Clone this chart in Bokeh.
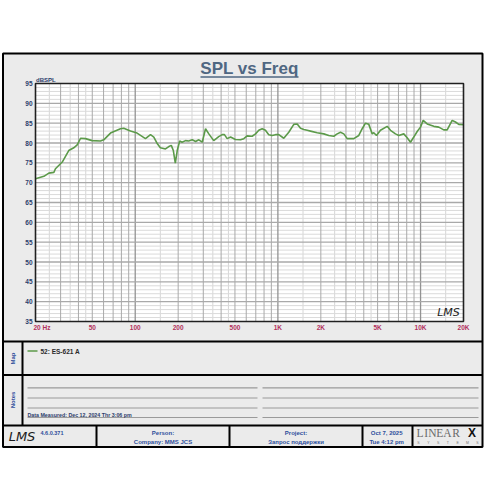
import math
from bokeh.plotting import figure
from bokeh.models import Range1d, LogScale
from bokeh.embed import file_html
from bokeh.resources import INLINE
from bokeh.core.properties import value

# ---------------- data ----------------
freq = [20, 22.9, 24.8, 26.9, 27.6, 30.8, 34.2, 37.1, 39.2, 41.4,
        44.8, 49.9, 57.1, 60.2, 67.1, 78.8, 83.1, 92.6, 103, 118,
        128, 135, 143, 150, 163, 172, 179, 185, 191, 197,
        205, 213, 225, 237, 251, 265, 279, 295, 311, 328,
        355, 385, 407, 422, 441, 466, 504, 547, 577, 609,
        660, 697, 735, 776, 818, 863, 912, 962, 1015, 1100,
        1192, 1293, 1366, 1441, 1520, 1605, 1693, 1886, 2097, 2273,
        2465, 2604, 2747, 2897, 3060, 3405, 3691, 3899, 4112, 4338,
        4583, 4702, 4911, 5238, 5838, 6156, 6673, 7038, 7627, 8057,
        8500, 8966, 9472, 9990, 10434, 11131, 12385, 13422, 14546, 15367,
        16661, 17573, 18536, 20000]
spl = [71.0, 71.6, 72.4, 72.6, 73.5, 75.2, 78.1, 78.8, 79.5, 81.2,
       81.1, 80.6, 80.5, 80.8, 82.5, 83.6, 83.7, 83.0, 82.5, 81.1,
       82.1, 81.5, 79.8, 78.8, 78.5, 79.1, 79.4, 78.1, 74.9, 78.1,
       80.5, 80.2, 80.6, 80.5, 80.8, 80.4, 80.8, 80.2, 83.6, 82.3,
       80.6, 81.6, 82.1, 82.1, 81.1, 81.5, 80.9, 80.8, 81.1, 81.8,
       81.7, 82.3, 83.2, 83.6, 83.2, 82.1, 81.9, 82.1, 82.1, 81.2,
       82.7, 84.7, 84.8, 83.7, 83.4, 83.2, 83.0, 82.6, 82.3, 81.9,
       81.7, 82.3, 82.7, 82.3, 81.1, 81.1, 81.9, 83.6, 85.0, 84.7,
       82.3, 82.6, 81.9, 83.2, 84.2, 83.2, 82.3, 81.9, 82.3, 81.3,
       80.2, 81.5, 82.9, 84.0, 85.7, 84.8, 84.2, 84.0, 83.3, 83.3,
       85.7, 85.3, 84.7, 84.6]
y_ticks = [95, 90, 85, 80, 75, 70, 65, 60, 55, 50, 45, 40, 35]
x_tick_freqs = [50, 100, 200, 500, 1000, 2000, 5000, 10000, 20000]
x_tick_labels = ["50", "100", "200", "500", "1K", "2K", "5K", "10K", "20K"]
first_tick = "20  Hz"
series_name = "52: ES-621 A"
title_text = "SPL vs Freq"
y_unit = "dBSPL"

# ---------------- layout (pixels) ----------------
PX0, PX1, PY0, PY1 = 35, 463, 83, 321
F0, F1, DB0, DB1 = 20.0, 20000.0, 35.0, 95.0
FX0, FX1, FY0, FY1 = 2.5, 482, 53, 446.5   # outer frame
W = H = 484


def px_to_f(px):
    return F0 * 10 ** ((px - PX0) / (PX1 - PX0) * math.log10(F1 / F0))


def py_to_db(py):
    return DB1 - (py - PY0) / (PY1 - PY0) * (DB1 - DB0)


FONT = value("Liberation Sans")
BLUE = "#2f4f9c"
NAVY = "#2b3d6b"
CRIMSON = "#b2305c"

p = figure(width=W, height=H, x_range=Range1d(0, W), y_range=Range1d(H, 0),
           output_backend="svg", toolbar_location=None, min_border=0,
           x_axis_location=None, y_axis_location=None)
p.grid.visible = False
p.outline_line_color = None
p.background_fill_color = "white"
p.border_fill_color = "white"
p.extra_x_ranges = {"f": Range1d(px_to_f(0), px_to_f(W))}
p.extra_x_scales = {"f": LogScale()}
p.extra_y_ranges = {"db": Range1d(py_to_db(H), py_to_db(0))}

# outer panel
p.quad(left=[FX0], right=[FX1], top=[FY0], bottom=[FY1], fill_color="#ebebeb",
       line_color="black", line_width=2)

# plot area
p.quad(left=[F0], right=[F1], top=[DB1], bottom=[DB0],
       fill_color="white", line_color=None, x_range_name="f", y_range_name="db")

# vertical grid
minor_v, major_v, decade_v = [], [], []
for dec in [10, 100, 1000, 10000]:
    for m in [1.5, 2.5, 3.5, 4.5]:
        f = m * dec
        if F0 < f < F1:
            minor_v.append(f)
    for m in range(1, 10):
        f = m * dec
        if F0 < f < F1:
            (decade_v if m == 1 else major_v).append(f)
p.segment(x0=minor_v, x1=minor_v, y0=[DB0] * len(minor_v), y1=[DB1] * len(minor_v),
          line_color="#d6d6d6", line_width=1, x_range_name="f", y_range_name="db")
# horizontal grid
minor_h = [d for d in range(int(DB0) + 1, int(DB1)) if d % 5]
major_h = [d for d in range(int(DB0) + 5, int(DB1), 5)]
p.segment(x0=[F0] * len(minor_h), x1=[F1] * len(minor_h), y0=minor_h, y1=minor_h,
          line_color="#dadada", line_width=1, x_range_name="f", y_range_name="db")
p.segment(x0=major_v, x1=major_v, y0=[DB0] * len(major_v), y1=[DB1] * len(major_v),
          line_color="#a9a9a9", line_width=1, x_range_name="f", y_range_name="db")
p.segment(x0=decade_v, x1=decade_v, y0=[DB0] * len(decade_v), y1=[DB1] * len(decade_v),
          line_color="#939393", line_width=1.3, x_range_name="f", y_range_name="db")
p.segment(x0=[F0] * len(major_h), x1=[F1] * len(major_h), y0=major_h, y1=major_h,
          line_color="#a9a9a9", line_width=1.3, x_range_name="f", y_range_name="db")

# curve
p.line(freq, spl, line_color="#5c9a4a", line_width=1.6, x_range_name="f", y_range_name="db")

# plot border
p.quad(left=[F0], right=[F1], top=[DB1], bottom=[DB0], fill_color=None,
       line_color="#202020", line_width=1.6, x_range_name="f", y_range_name="db")

# title
p.text(x=[249], y=[68.3], text=[title_text], text_font=FONT, text_font_size="17px",
       text_font_style="bold", text_color="#4f6782", text_align="center",
       text_baseline="middle")
p.segment(x0=[200], x1=[298], y0=[76.6], y1=[76.6], line_color="#4f6782", line_width=1.5)

# axis labels
p.text(x=[35.5], y=[79.3], text=[y_unit], text_font=FONT, text_font_size="6px",
       text_font_style="bold", text_color=NAVY, text_align="left", text_baseline="middle")
p.text(x=[32] * len(y_ticks), y=y_ticks, text=[str(t) for t in y_ticks], text_font=FONT,
       text_font_size="6.5px", text_font_style="bold", text_color=NAVY,
       text_align="right", text_baseline="middle", y_range_name="db")
p.text(x=x_tick_freqs, y=[327] * len(x_tick_freqs), text=x_tick_labels, text_font=FONT,
       text_font_size="6.5px", text_font_style="bold", text_color=CRIMSON,
       text_align="center", text_baseline="middle", x_range_name="f")
p.text(x=[F0], y=[327], text=[first_tick], text_font=FONT, x_offset=-2,
       text_font_size="6.5px", text_font_style="bold", text_color=CRIMSON,
       text_align="left", text_baseline="middle", x_range_name="f")

# LMS watermark in plot
p.text(x=[448], y=[311.5], text=["LMS"], text_font=value("DejaVu Sans"), text_font_size="11px",
       text_font_style="italic", text_color="#222222", text_align="center", text_baseline="middle")

# panel dividers
p.segment(x0=[FX0] * 3, x1=[FX1] * 3, y0=[341, 374.5, 425], y1=[341, 374.5, 425],
          line_color="black", line_width=2)
p.segment(x0=[22, 96, 229, 362, 412], x1=[22, 96, 229, 362, 412],
          y0=[341, 425, 425, 425, 425], y1=[425, FY1, FY1, FY1, FY1],
          line_color="black", line_width=2)

# Map / Notes labels (rotated)
p.text(x=[12, 12], y=[358, 399.5], text=["Map", "Notes"], text_font=FONT, text_font_size="6px",
       text_font_style="bold", text_color=BLUE, text_align="center", text_baseline="middle",
       angle=math.pi / 2)

# legend entry
p.segment(x0=[27], x1=[37], y0=[350.5], y1=[350.5], line_color="#5c9a4a", line_width=1.6)
p.text(x=[40], y=[350.5], text=[series_name], text_font=FONT, text_font_size="6.5px",
       text_font_style="bold", text_color="#2a2a2a", text_align="left", text_baseline="middle")

# notes lines
ny = [387.3, 397.5, 407.5, 417]
p.segment(x0=[27] * 4 + [262] * 4, x1=[257] * 4 + [478] * 4, y0=ny + ny, y1=ny + ny,
          line_color="#9a9a9a", line_width=1.2)
p.text(x=[27], y=[414], text=["Data Measured: Dec 12, 2024  Thr  3:06 pm"], text_font=FONT,
       text_font_size="5.3px", text_font_style="bold", text_color=NAVY, text_align="left",
       text_baseline="middle")

# footer
p.text(x=[21.5], y=[435.5], text=["LMS"], text_font=value("DejaVu Sans"), text_font_size="13px",
       text_font_style="italic", text_color="#1a1a1a", text_align="center", text_baseline="middle")
p.text(x=[40], y=[432.5], text=["4.6.0.371"], text_font=FONT, text_font_size="5.5px",
       text_font_style="bold", text_color=BLUE, text_align="left", text_baseline="middle")
p.text(x=[162.5, 162.5, 295.5, 295.5, 387, 387], y=[432.5, 441, 432.5, 441, 432.5, 441],
       text=["Person:", "Company: MMS JCS", "Project:", "Запрос поддержки", "Oct  7, 2025", "Tue  4:12 pm"],
       text_font=FONT, text_font_size="6px", text_font_style="bold", text_color=BLUE,
       text_align="center", text_baseline="middle")

# LINEAR X logo
lx = [419.5, 425.7, 431.8, 439.3, 447.0, 455.6]
p.text(x=lx, y=[432.8] * 6, text=list("LINEAR"), text_font=value("Liberation Serif"),
       text_font_size="11.5px", text_color="#6a6a6a", text_align="center",
       text_baseline="middle")
p.text(x=[471.5], y=[432.8], text=["X"], text_font=FONT, text_font_size="12px",
       text_font_style="bold", text_color="#111111", text_align="center",
       text_baseline="middle")
sx = [418 + i * 9.8 for i in range(7)]
p.text(x=sx, y=[442.3] * 7, text=list("SYSTEMS"), text_font=FONT, text_font_size="3.5px",
       text_color="#777777", text_align="center", text_baseline="middle")

open("out.html", "w").write(file_html(p, INLINE))
